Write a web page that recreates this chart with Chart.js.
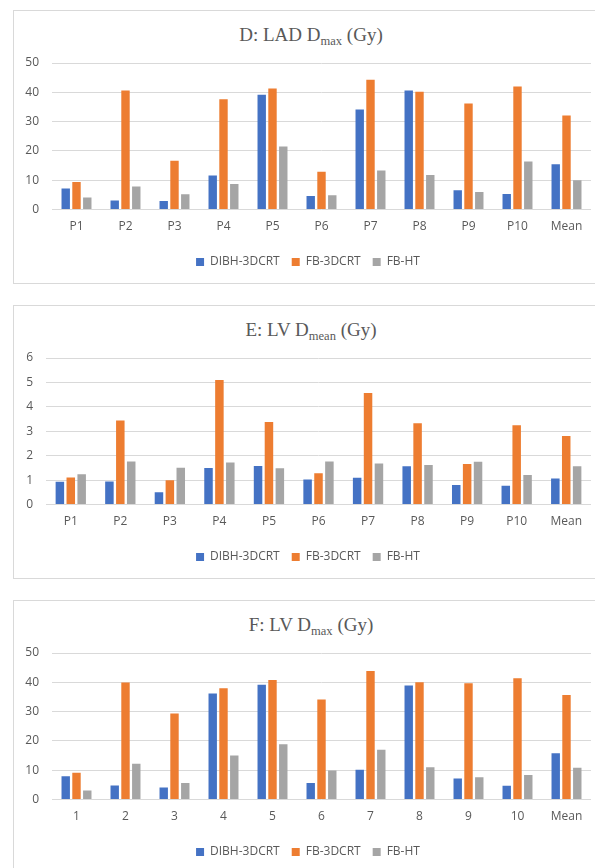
<!DOCTYPE html>
<html>
<head>
<meta charset="utf-8">
<script src="https://cdn.jsdelivr.net/npm/chart.js@4.4.0/dist/chart.umd.min.js"></script>
<style>
  html, body { margin: 0; padding: 0; background: #fff; overflow: hidden; }
  body { width: 595px; height: 868px; position: relative; }
  .panel { position: absolute; left: 13px; width: 600px; height: 272px; border: 1px solid #d9d9d9; }
  .panel canvas { position: absolute; left: 0; top: 0; }
  .title { position: absolute; left: 0; top: 13px; width: 594px; text-align: center;
           font-family: "Liberation Serif", "Times New Roman", serif; font-size: 19px;
           line-height: 22px; color: #595959; }
  .title sub { font-size: 0.66em; line-height: 0; vertical-align: -0.35em; }
</style>
</head>
<body>
<div class="panel" style="top:10px">
  <div class="title">D: LAD D<sub>max</sub> (Gy)</div>
  <canvas id="chartD" width="600" height="272"></canvas>
</div>
<div class="panel" style="top:305px">
  <div class="title">E: LV D<sub>mean</sub> (Gy)</div>
  <canvas id="chartE" width="600" height="272"></canvas>
</div>
<div class="panel" style="top:600px">
  <div class="title">F: LV D<sub>max</sub> (Gy)</div>
  <canvas id="chartF" width="600" height="272"></canvas>
</div>
<script>
let patientLabels = ["P1", "P2", "P3", "P4", "P5", "P6", "P7", "P8", "P9", "P10", "Mean"];
let numberLabels = ["1", "2", "3", "4", "5", "6", "7", "8", "9", "10", "Mean"];
let seriesNames = ["DIBH-3DCRT", "FB-3DCRT", "FB-HT"];
let seriesColours = ["#4472c4", "#ed7d31", "#a5a5a5"];

// D: LAD Dmax
let ladDibh = [7.2, 3.1, 2.9, 11.6, 39.2, 4.6, 34.1, 40.6, 6.6, 5.3, 15.5];
let ladFb3d = [9.4, 40.6, 16.7, 37.6, 41.3, 12.9, 44.3, 40.2, 36.2, 42.0, 32.1];
let ladFbHt = [4.1, 7.9, 5.2, 8.7, 21.5, 4.9, 13.3, 11.8, 6.0, 16.4, 10.0];

// E: LV Dmean
let lvMeanDibh = [0.94, 0.95, 0.51, 1.50, 1.58, 1.03, 1.10, 1.57, 0.80, 0.77, 1.07];
let lvMeanFb3d = [1.11, 3.44, 1.00, 5.10, 3.38, 1.28, 4.57, 3.33, 1.66, 3.25, 2.81];
let lvMeanFbHt = [1.24, 1.76, 1.51, 1.72, 1.49, 1.76, 1.68, 1.62, 1.75, 1.21, 1.57];

// F: LV Dmax
let lvMaxDibh = [8.0, 4.8, 4.1, 36.2, 39.2, 5.7, 10.2, 38.9, 7.2, 4.7, 15.8];
let lvMaxFb3d = [9.2, 39.9, 29.4, 38.0, 40.8, 34.1, 43.9, 40.0, 39.7, 41.4, 35.7];
let lvMaxFbHt = [3.1, 12.2, 5.7, 15.0, 18.9, 9.9, 17.0, 11.0, 7.6, 8.4, 10.9];

let textColour = "#595959";
let gridColour = "#d9d9d9";
let tickFont = { family: "'Open Sans', sans-serif", size: 12 };

function makeChart(id, labels, values, yMax, yStep, yWidth) {
    new Chart(document.getElementById(id), {
        type: "bar",
        data: {
            labels: labels,
            datasets: values.map(function (v, i) {
                return {
                    label: seriesNames[i],
                    data: v,
                    backgroundColor: seriesColours[i],
                    categoryPercentage: 0.66,
                    barPercentage: 0.78
                };
            })
        },
        options: {
            responsive: false,
            animation: false,
            layout: { padding: { top: 52, left: 11, right: 23, bottom: 5 } },
            plugins: {
                title: { display: false },
                tooltip: { enabled: false },
                legend: {
                    position: "bottom",
                    labels: { boxWidth: 8, boxHeight: 8, padding: 12, color: textColour, font: tickFont }
                }
            },
            scales: {
                x: {
                    grid: { display: false, drawTicks: false },
                    border: { display: false },
                    ticks: { color: textColour, font: tickFont, padding: 10 }
                },
                y: {
                    min: 0,
                    max: yMax,
                    grid: { color: gridColour, drawTicks: false },
                    border: { display: false },
                    ticks: { stepSize: yStep, color: textColour, font: tickFont, padding: 13 },
                    afterFit: function (axis) { axis.width = yWidth; }
                }
            }
        }
    });
}

makeChart("chartD", patientLabels, [ladDibh, ladFb3d, ladFbHt], 50, 10, 27);
makeChart("chartE", patientLabels, [lvMeanDibh, lvMeanFb3d, lvMeanFbHt], 6, 1, 21);
makeChart("chartF", numberLabels, [lvMaxDibh, lvMaxFb3d, lvMaxFbHt], 50, 10, 27);
</script>
</body>
</html>
